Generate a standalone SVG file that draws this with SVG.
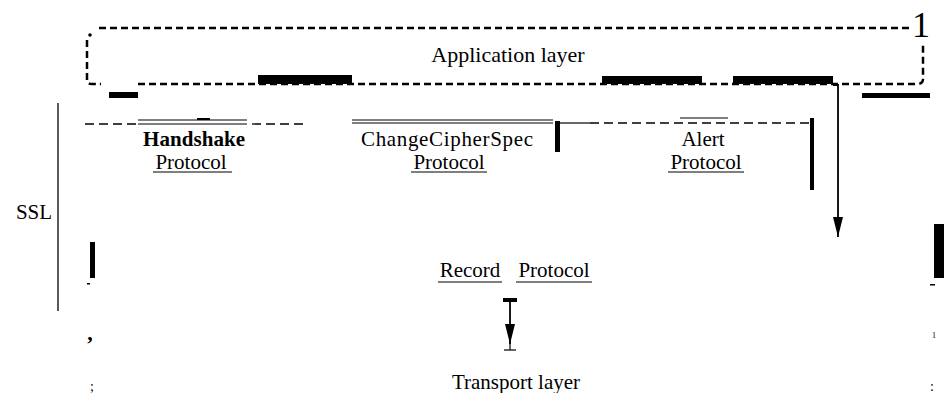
<svg xmlns="http://www.w3.org/2000/svg" width="944" height="393" viewBox="0 0 944 393">
<style>
text{font-family:"Liberation Serif","Times New Roman",serif;fill:#000}
.t{font-size:21px}
.big{font-size:22px}
.dash{fill:none;stroke:#000;stroke-width:2.5;stroke-dasharray:7 4}
.thin{fill:none;stroke:#000;stroke-width:1.3}
.dl{fill:none;stroke:#000;stroke-width:1.3;stroke-dasharray:9 5}
.u{stroke:#000;stroke-width:1.2}
.bar{fill:#000}
.conn{fill:none;stroke:#000;stroke-width:1.8}
</style>
<defs>
<marker id="ah" viewBox="0 0 20 10" refX="20" refY="5" markerWidth="20" markerHeight="10" markerUnits="userSpaceOnUse" orient="auto">
<path d="M0,0 L20,5 L0,10 Z" fill="#000"/>
</marker>
</defs>

<g id="application-layer">
<path class="dash" d="M99,28 H910"/>
<path class="dash" d="M87,40 V80 Q87,84 92,84 H101"/>
<path class="dash" d="M138,84 H917 Q923,84 923,79 V42"/>
<circle cx="90" cy="35" r="1.8" fill="#000"/>
<text x="508" y="62" class="big" text-anchor="middle">Application layer</text>
<text x="921" y="37" font-size="36" text-anchor="middle">1</text>
<rect class="bar" x="258" y="75" width="94" height="9"/>
<rect class="bar" x="602" y="76" width="100" height="8"/>
<rect class="bar" x="733" y="76" width="100" height="8"/>
<rect class="bar" x="109" y="92" width="29" height="6"/>
<rect class="bar" x="862" y="93" width="68" height="5"/>
</g>

<g id="ssl">
<text x="34" y="219" class="t" text-anchor="middle">SSL</text>
<line class="thin" x1="58" y1="103" x2="58" y2="311"/>
<path class="dl" d="M85,124 H138"/>
<path class="dl" d="M252,124 H305"/>
<path class="dl" d="M590,123 H810"/>
<line class="u" x1="560" y1="123" x2="590" y2="123"/>
<rect class="bar" x="555" y="121" width="5" height="31"/>
<rect class="bar" x="810" y="118" width="4" height="72"/>
<rect class="bar" x="90" y="242" width="5" height="36"/>
<rect class="bar" x="87" y="283" width="3" height="1.5"/>
<rect class="bar" x="934" y="224" width="10" height="54"/>
<rect class="bar" x="930" y="284" width="5" height="1.5"/>
<text x="90" y="340" font-size="22" font-weight="bold" text-anchor="middle">,</text>
<text x="92" y="391" font-size="14" text-anchor="middle">;</text>
<text x="934" y="338" font-size="8" text-anchor="middle">1</text>
<text x="932" y="391" font-size="14" text-anchor="middle">:</text>
</g>

<g id="handshake">
<line class="u" x1="138" y1="120" x2="247" y2="120"/>
<line class="u" x1="138" y1="124" x2="247" y2="124"/>
<rect class="bar" x="197" y="118" width="13" height="2"/>
<text x="194" y="146" class="t" font-weight="bold" text-anchor="middle" textLength="102">Handshake</text>
<text x="191" y="169" class="t" text-anchor="middle">Protocol</text>
<line class="u" x1="153" y1="172" x2="232" y2="172"/>
</g>

<g id="changecipherspec">
<line class="u" x1="352" y1="120" x2="553" y2="120"/>
<line class="u" x1="352" y1="123" x2="553" y2="123"/>
<text x="447" y="146" class="t" text-anchor="middle" textLength="172">ChangeCipherSpec</text>
<text x="449" y="169" class="t" text-anchor="middle">Protocol</text>
<line class="u" x1="411" y1="172" x2="487" y2="172"/>
</g>

<g id="alert">
<line class="u" x1="680" y1="118" x2="728" y2="118"/>
<text x="703" y="146" class="t" text-anchor="middle">Alert</text>
<text x="706" y="169" class="t" text-anchor="middle">Protocol</text>
<line class="u" x1="668" y1="172" x2="744" y2="172"/>
</g>

<g id="record-protocol">
<text x="470" y="277" class="t" text-anchor="middle">Record</text>
<line class="u" x1="438" y1="282" x2="502" y2="282"/>
<text x="554" y="277" class="t" text-anchor="middle">Protocol</text>
<line class="u" x1="516" y1="282" x2="592" y2="282"/>
</g>

<g id="transport-layer">
<text x="516" y="389" class="t" text-anchor="middle">Transport layer</text>
</g>

<g id="connectors">
<path class="conn" d="M833,85 H838 V237" marker-end="url(#ah)"/>
<rect class="bar" x="503" y="298" width="14" height="4"/>
<path class="conn" d="M510,302 V344" marker-end="url(#ah)"/>
<line class="u" x1="504" y1="350" x2="516" y2="350"/>
<line class="u" x1="510" y1="343" x2="510" y2="350"/>
</g>
</svg>
